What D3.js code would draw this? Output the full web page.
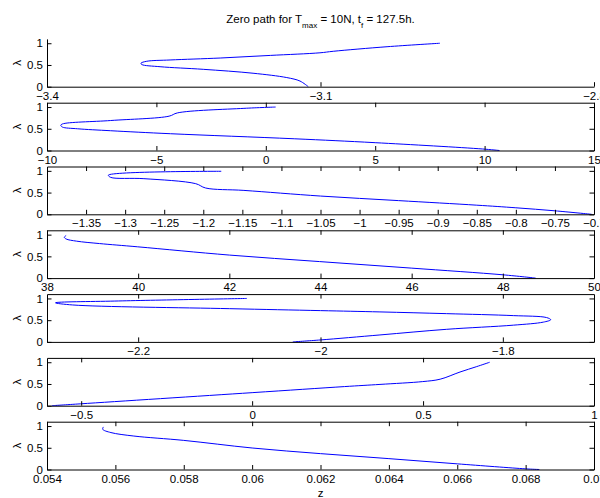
<!DOCTYPE html>
<html>
<head>
<meta charset="utf-8">
<script src="https://cdn.jsdelivr.net/npm/d3@7"></script>
<style>
  html, body { margin: 0; padding: 0; background: #fff; }
  svg { display: block; }
  text { font-family: "Liberation Sans", Arial, Helvetica, sans-serif; fill: #000; }
</style>
</head>
<body>
<svg id="chart" width="600" height="498"></svg>
<script>
// ---------- data ----------
const yTicks = [0, 0.5, 1];
const yDomain = [0, 1.1];

const xDomain1 = [-3.4, -2.8];
const xTicks1 = [-3.4, -3.1, -2.8];
const z1   = [-3.1134, -3.1225, -3.137, -3.174, -3.2286, -3.276, -3.296, -3.297, -3.2906, -3.265, -3.210, -3.155, -3.1006, -3.086, -3.027, -2.969];
const lam1 = [0, 0.13, 0.21, 0.31, 0.40, 0.46, 0.51, 0.54, 0.585, 0.615, 0.66, 0.72, 0.78, 0.815, 0.92, 1.0];

const xDomain2 = [-10, 15];
const xTicks2 = [-10, -5, 0, 5, 10, 15];
const z2   = [10.68, 9.9, 5.0, 1.3, -4.35, -7.09, -8.6, -9.3, -9.37, -9.3, -7.09, -4.42, -4.04, -1.0, 0.45];
const lam2 = [0, 0.035, 0.18, 0.27, 0.386, 0.455, 0.50, 0.54, 0.58, 0.61, 0.69, 0.79, 0.865, 0.97, 1.0];

const xDomain3 = [-1.4, -0.7];
const xTicks3 = [-1.35, -1.3, -1.25, -1.2, -1.15, -1.1, -1.05, -1, -0.95, -0.9, -0.85, -0.8, -0.75, -0.7];
const z3   = [-0.703, -0.75, -0.8, -0.85, -0.95, -1.05, -1.148, -1.197, -1.2097, -1.276, -1.3185, -1.3215, -1.177];
const lam3 = [0, 0.08, 0.15, 0.21, 0.315, 0.42, 0.55, 0.605, 0.705, 0.82, 0.85, 0.90, 0.99];

const xDomain4 = [38, 50];
const xTicks4 = [38, 40, 42, 44, 46, 48, 50];
const z4   = [48.72, 48.01, 45.99, 43.98, 42.0, 39.99, 39.15, 38.65, 38.42, 38.38, 38.42];
const lam4 = [0, 0.075, 0.23, 0.38, 0.53, 0.72, 0.795, 0.85, 0.90, 0.94, 0.98];

const xDomain5 = [-2.3, -1.7];
const xTicks5 = [-2.2, -2, -1.8];
const z5   = [-2.0304, -2.0, -1.9348, -1.8616, -1.7885, -1.7556, -1.7475, -1.752, -1.7885, -1.8616, -1.9348, -2.0, -2.1, -2.2718, -2.2907, -2.2256, -2.0808];
const lam5 = [0, 0.045, 0.16, 0.29, 0.385, 0.455, 0.51, 0.56, 0.605, 0.65, 0.69, 0.72, 0.765, 0.85, 0.90, 0.94, 1.0];

const xDomain6 = [-0.6, 1];
const xTicks6 = [-0.5, 0, 0.5, 1];
const z6   = [-0.586, -0.502, 0.0, 0.27, 0.374, 0.499, 0.55, 0.608, 0.657, 0.695];
const lam6 = [0, 0.043, 0.30, 0.44, 0.49, 0.555, 0.61, 0.775, 0.90, 1.0];

const xDomain7 = [0.054, 0.070];
const xTicks7 = [0.054, 0.056, 0.058, 0.06, 0.062, 0.064, 0.066, 0.068, 0.07];
const z7   = [0.0684, 0.0680, 0.0660, 0.0640, 0.0620, 0.0600, 0.0580, 0.05654, 0.05587, 0.05563, 0.05565];
const lam7 = [0, 0.015, 0.13, 0.25, 0.365, 0.495, 0.67, 0.77, 0.85, 0.925, 0.98];

const panels = [
  {z: z1, lam: lam1, dom: xDomain1, ticks: xTicks1, box: false},
  {z: z2, lam: lam2, dom: xDomain2, ticks: xTicks2, box: true},
  {z: z3, lam: lam3, dom: xDomain3, ticks: xTicks3, box: true},
  {z: z4, lam: lam4, dom: xDomain4, ticks: xTicks4, box: true},
  {z: z5, lam: lam5, dom: xDomain5, ticks: xTicks5, box: true},
  {z: z6, lam: lam6, dom: xDomain6, ticks: xTicks6, box: true},
  {z: z7, lam: lam7, dom: xDomain7, ticks: xTicks7, box: true}
];

// ---------- layout ----------
const L = 47, R = 594;
const bottom0 = 86.7, step = 63.8, H = 47.8;
const FS = 11.5, TK = 4.5;

const svg = d3.select("#chart");
const fmt = d3.format("~g");

panels.forEach((p, i) => {
  const yb = bottom0 + step * i, yt = yb - H;
  const x = d3.scaleLinear().domain(p.dom).range([L, R]);
  const y = d3.scaleLinear().domain(yDomain).range([yb, yt]);
  const g = svg.append("g");

  if (p.box) {
    g.append("rect").attr("x", L).attr("y", yt).attr("width", R - L).attr("height", H)
      .attr("fill", "#fff");
  }

  const line = d3.line()
    .x((d, k) => x(p.z[k]))
    .y((d, k) => y(p.lam[k]))
    .curve(d3.curveCatmullRom.alpha(0.5));
  g.append("path").datum(p.z).attr("d", line)
    .attr("fill", "none").attr("stroke", "#0000ff").attr("stroke-width", 1);

  // bottom axis with labels
  const ax = g.append("g").attr("transform", `translate(0,${yb})`)
    .call(d3.axisBottom(x).tickValues(p.ticks).tickFormat(fmt)
      .tickSizeInner(-TK).tickSizeOuter(0).tickPadding(5));
  // left axis
  const ay = g.append("g").attr("transform", `translate(${L},0)`)
    .call(d3.axisLeft(y).tickValues(yTicks).tickFormat(fmt)
      .tickSizeInner(-TK).tickSizeOuter(0).tickPadding(4));
  const axes = [ax, ay];
  if (p.box) {
    axes.push(g.append("g").attr("transform", `translate(0,${yt})`)
      .call(d3.axisTop(x).tickValues(p.ticks).tickFormat("")
        .tickSizeInner(-TK).tickSizeOuter(0)));
    axes.push(g.append("g").attr("transform", `translate(${R},0)`)
      .call(d3.axisRight(y).tickValues(yTicks).tickFormat("")
        .tickSizeInner(-TK).tickSizeOuter(0)));
  }
  axes.forEach(a => {
    a.attr("font-size", null).attr("font-family", null);
    a.selectAll("text").style("font-size", FS + "px");
    a.selectAll("path, line").attr("stroke", "#000").attr("stroke-width", 1);
  });

  // y label
  g.append("text")
    .attr("transform", `translate(21,${(yb + yt) / 2}) rotate(-90)`)
    .attr("text-anchor", "middle")
    .style("font-size", FS + "px")
    .text("λ");
});

// title
const title = svg.append("text")
  .attr("x", (L + R) / 2).attr("y", 23.3)
  .attr("text-anchor", "middle")
  .style("font-size", FS + "px");
title.append("tspan").text("Zero path for T");
title.append("tspan").attr("dy", 4.5).style("font-size", "8px").text("max");
title.append("tspan").attr("dy", -4.5).text(" = 10N, t");
title.append("tspan").attr("dy", 4.5).style("font-size", "8px").text("f");
title.append("tspan").attr("dy", -4.5).text(" = 127.5h.");

// x label
svg.append("text")
  .attr("x", (L + R) / 2).attr("y", 497)
  .attr("text-anchor", "middle")
  .style("font-size", FS + "px")
  .text("z");
</script>
</body>
</html>
